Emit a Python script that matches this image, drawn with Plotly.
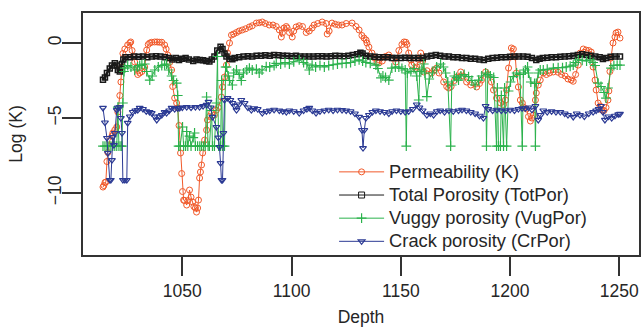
import plotly.graph_objects as go

# ---------------- data ----------------
k_depth = [1013.7, 1014.1, 1014.6, 1015.0, 1015.5, 1015.9, 1016.8, 1017.8, 1018.2, 1019.1, 1020.0, 1020.5,
           1021.4, 1021.9, 1022.3, 1022.8, 1023.7, 1025.0, 1026.0, 1026.4, 1027.0, 1027.5, 1028.2, 1029.0,
           1029.6, 1030.5, 1031.5, 1032.8, 1033.7, 1034.4, 1035.1, 1036.0, 1037.4, 1038.5, 1039.5, 1040.6,
           1041.9, 1042.6, 1043.3, 1044.2, 1045.1, 1045.6, 1046.5, 1047.4, 1047.9, 1048.5, 1049.2, 1049.7,
           1050.1, 1050.6, 1051.0, 1052.0, 1052.6, 1053.3, 1054.0, 1054.7, 1055.3, 1056.0, 1056.5, 1057.0,
           1057.4, 1057.9, 1058.3, 1058.8, 1059.3, 1060.2, 1061.1, 1061.5, 1062.4, 1063.4, 1064.7, 1065.6,
           1066.5, 1067.9, 1068.4, 1069.3, 1070.2, 1070.7, 1071.6, 1072.5, 1073.5, 1074.8, 1076.0, 1077.5,
           1079.0, 1080.7, 1082.0, 1083.9, 1085.2, 1086.6, 1088.0, 1089.8, 1091.5, 1093.0, 1094.4, 1095.3,
           1095.8, 1096.5, 1097.6, 1098.0, 1099.0, 1100.3, 1101.0, 1102.1, 1103.5, 1105.0, 1106.7, 1108.1,
           1109.4, 1110.3, 1112.0, 1114.0, 1115.8, 1116.3, 1117.2, 1118.5, 1120.0, 1121.5, 1123.1, 1125.0,
           1127.7, 1129.5, 1130.9, 1132.2, 1133.2, 1134.1, 1134.5, 1135.4, 1136.8, 1138.0, 1139.1, 1140.0,
           1141.5, 1143.0, 1144.5, 1146.0, 1147.7, 1149.1, 1150.5, 1151.5, 1152.3, 1152.8, 1153.6, 1154.6,
           1155.0, 1156.8, 1157.3, 1158.2, 1159.1, 1160.0, 1160.5, 1162.0, 1164.1, 1165.2, 1166.4, 1167.5,
           1169.6, 1171.0, 1171.9, 1173.0, 1174.5, 1175.5, 1177.4, 1178.5, 1180.1, 1182.0, 1184.7, 1186.0,
           1186.9, 1188.8, 1189.8, 1191.5, 1192.4, 1193.8, 1195.6, 1197.0, 1197.9, 1198.4, 1199.3, 1200.2,
           1200.6, 1201.5, 1202.4, 1202.9, 1203.8, 1204.7, 1205.6, 1206.1, 1207.5, 1208.4, 1209.3, 1210.0,
           1210.6, 1211.6, 1212.0, 1212.9, 1213.8, 1215.2, 1216.6, 1218.0, 1219.8, 1222.0, 1223.5, 1225.2,
           1226.5, 1228.0, 1228.9, 1230.0, 1231.2, 1232.1, 1233.5, 1234.8, 1236.0, 1237.1, 1238.0, 1238.9,
           1239.4, 1240.3, 1241.2, 1242.0, 1243.0, 1243.9, 1244.8, 1245.2, 1245.7, 1246.2, 1247.1, 1248.0,
           1248.5, 1249.4, 1250.3]
k_value = [-9.6, -9.5, -9.3, -9.27, -7.9, -7.3, -6.5, -6.2, -6.0, -5.8, -5.6, -4.6,
           -3.5, -2.6, -1.6, -0.7, -0.4, -0.13, 0.0, 0.07, -0.5, -0.9, -1.27, -1.7,
           -2.1, -2.0, -1.9, -1.6, -0.47, -0.1, 0.0, 0.05, 0.07, 0.07, 0.05, 0.05,
           -0.13, -0.4, -0.8, -1.3, -1.8, -2.9, -3.67, -4.0, -4.33, -5.5, -7.33, -8.7,
           -9.9, -10.47, -10.5, -10.8, -10.5, -9.8, -10.27, -10.6, -10.9, -11.0, -11.27, -11.0,
           -10.47, -9.0, -8.6, -8.13, -7.33, -6.47, -5.8, -5.13, -4.9, -4.67, -4.8, -4.47,
           -4.3, -3.6, -2.93, -2.27, -1.47, -0.67, 0.0, 0.53, 0.6, 0.7, 0.8, 0.87,
           0.95, 1.07, 1.15, 1.33, 1.35, 1.4, 1.3, 1.2, 1.2, 1.1, 0.87, 0.4,
           0.67, 1.0, 1.1, 1.0, 0.7, 0.4, 0.8, 1.07, 1.15, 1.1, 0.7, 0.8,
           1.0, 1.2, 1.3, 1.4, 1.3, 0.6, 0.8, 1.33, 1.25, 1.2, 1.2, 1.3,
           1.33, 1.1, 0.87, 0.5, 0.33, 0.2, 0.0, -0.27, -0.67, -1.0, -1.27, -1.33,
           -1.2, -0.9, -0.8, -1.0, -1.27, -0.5, -0.1, 0.07, 0.05, -0.1, -0.67, -1.13,
           -1.47, -1.7, -1.6, -1.1, -0.67, -1.2, -1.93, -1.85, -2.0, -1.8, -1.67, -2.0,
           -2.6, -2.9, -3.0, -2.9, -2.5, -2.27, -1.93, -2.2, -2.6, -2.8, -2.93, -2.7,
           -2.47, -1.93, -2.1, -2.6, -3.13, -3.67, -4.0, -4.1, -3.8, -3.13, -1.67, -0.93,
           -0.33, -0.4, -0.93, -2.0, -2.93, -3.8, -4.0, -4.27, -4.4, -4.9, -5.2, -5.0,
           -4.8, -3.8, -3.33, -2.8, -2.47, -2.0, -2.1, -2.0, -1.93, -1.95, -2.1, -2.2,
           -2.4, -2.47, -2.55, -2.1, -1.47, -0.67, -0.4, -0.47, -0.5, -0.6, -1.6, -2.47,
           -3.13, -4.0, -4.2, -4.47, -4.5, -4.3, -3.8, -3.2, -1.9, -1.0, 0.0, 0.4,
           0.67, 0.73, 0.33]

tp_depth = [1013.7, 1014.6, 1015.5, 1016.8, 1017.8, 1019.1, 1020.0, 1020.5, 1021.4, 1022.3, 1023.0, 1024.0,
            1026.0, 1028.0, 1030.0, 1032.0, 1034.0, 1036.0, 1038.0, 1040.0, 1042.0, 1044.0, 1045.5, 1047.0,
            1048.5, 1050.0, 1051.5, 1053.0, 1055.0, 1056.5, 1058.0, 1059.5, 1061.0, 1062.4, 1063.5, 1064.7,
            1066.0, 1067.5, 1068.4, 1069.3, 1070.2, 1071.6, 1072.9, 1074.0, 1076.0, 1078.0, 1080.0, 1082.0,
            1084.0, 1086.0, 1088.0, 1090.0, 1092.0, 1094.0, 1096.0, 1098.0, 1100.0, 1102.0, 1104.0, 1106.0,
            1108.0, 1110.0, 1112.0, 1114.0, 1116.0, 1118.0, 1120.0, 1122.0, 1124.0, 1126.0, 1128.0, 1130.0,
            1131.5, 1132.5, 1134.0, 1136.0, 1138.0, 1140.0, 1142.0, 1144.0, 1146.0, 1148.0, 1150.0, 1152.0,
            1154.0, 1156.0, 1158.0, 1160.0, 1162.0, 1164.0, 1166.0, 1168.0, 1170.0, 1172.0, 1174.0, 1176.0,
            1178.0, 1180.0, 1182.0, 1184.0, 1186.0, 1188.0, 1190.0, 1192.0, 1194.0, 1196.0, 1198.0, 1200.0,
            1202.0, 1204.0, 1206.0, 1208.0, 1210.0, 1212.0, 1213.5, 1215.0, 1217.0, 1219.0, 1221.0, 1223.0,
            1225.0, 1227.0, 1229.0, 1231.0, 1233.0, 1235.0, 1237.0, 1239.0, 1241.0, 1242.5, 1244.0, 1246.0,
            1248.0, 1250.3]
tp_value = [-2.45, -2.3, -2.0, -1.7, -1.5, -1.35, -1.5, -1.8, -1.9, -1.4, -1.1, -0.95,
            -0.95, -0.9, -0.92, -0.9, -0.95, -0.9, -0.88, -0.9, -0.95, -1.0, -1.1, -1.0,
            -1.13, -1.05, -1.0, -1.1, -1.2, -1.1, -1.13, -1.15, -1.2, -1.24, -1.1, -0.9,
            -0.5, -0.25, -0.4, -0.7, -0.9, -1.05, -1.09, -1.0, -0.95, -0.9, -0.88, -0.9,
            -0.85, -0.85, -0.82, -0.85, -0.8, -0.82, -0.85, -0.85, -0.88, -0.85, -0.9, -0.9,
            -0.9, -0.9, -0.88, -0.88, -0.9, -0.88, -0.85, -0.87, -0.88, -0.85, -0.8, -0.75,
            -0.65, -0.7, -0.85, -0.9, -0.92, -0.95, -0.95, -0.95, -1.0, -1.0, -1.0, -0.98,
            -1.0, -1.0, -1.0, -1.0, -0.9, -0.85, -0.8, -0.85, -0.9, -0.9, -0.95, -0.95,
            -1.0, -1.0, -1.05, -1.05, -1.1, -1.13, -1.05, -1.0, -0.98, -0.95, -0.95, -0.92,
            -0.9, -0.9, -0.9, -0.92, -1.0, -1.13, -1.05, -1.0, -0.98, -0.95, -0.95, -0.92,
            -0.9, -0.88, -0.85, -0.8, -0.75, -0.8, -0.85, -0.9, -0.95, -1.07, -1.0, -0.92,
            -0.9, -0.9]

vp_depth = [1013.7, 1014.6, 1015.5, 1016.4, 1017.3, 1018.2, 1019.1, 1020.0, 1020.5, 1021.0, 1021.9, 1022.3,
            1022.8, 1023.3, 1023.7, 1025.0, 1026.5, 1028.2, 1029.5, 1030.5, 1031.5, 1032.8, 1033.7, 1035.1,
            1036.2, 1037.4, 1039.0, 1040.6, 1041.9, 1042.8, 1043.8, 1045.1, 1046.0, 1047.4, 1047.9, 1048.3,
            1049.0, 1050.1, 1050.6, 1051.5, 1052.0, 1052.5, 1053.3, 1054.0, 1055.0, 1055.6, 1056.0, 1057.0,
            1058.0, 1058.8, 1059.7, 1060.5, 1061.1, 1061.8, 1062.4, 1063.4, 1063.8, 1064.7, 1065.6, 1066.1,
            1066.6, 1067.5, 1068.0, 1068.4, 1069.3, 1069.8, 1070.2, 1071.0, 1071.6, 1072.9, 1073.5, 1074.8,
            1076.0, 1077.0, 1078.0, 1079.5, 1080.7, 1082.0, 1083.9, 1085.2, 1086.5, 1088.4, 1090.0, 1092.0,
            1093.0, 1095.0, 1097.0, 1099.0, 1101.0, 1103.5, 1105.5, 1107.0, 1108.1, 1109.4, 1111.0, 1113.0,
            1115.0, 1117.0, 1119.0, 1121.0, 1123.1, 1125.0, 1127.0, 1129.0, 1130.9, 1132.5, 1134.0, 1136.0,
            1138.6, 1139.5, 1140.9, 1141.8, 1143.0, 1144.5, 1145.9, 1147.5, 1149.1, 1150.5, 1152.0, 1152.5,
            1153.0, 1154.6, 1156.0, 1157.3, 1158.2, 1158.7, 1159.6, 1160.5, 1161.0, 1161.9, 1163.0, 1164.5,
            1166.4, 1168.2, 1169.5, 1170.5, 1171.5, 1172.8, 1173.3, 1174.5, 1175.5, 1176.4, 1177.5, 1179.0,
            1181.0, 1182.5, 1184.0, 1185.6, 1187.0, 1188.8, 1189.2, 1189.8, 1191.0, 1192.5, 1193.8, 1194.2,
            1194.7, 1195.6, 1196.0, 1197.0, 1197.5, 1198.4, 1199.3, 1200.2, 1201.5, 1203.0, 1204.5, 1205.6,
            1206.1, 1207.0, 1208.0, 1208.4, 1209.5, 1211.2, 1211.6, 1212.0, 1212.9, 1213.8, 1215.2, 1217.0,
            1219.8, 1222.0, 1224.0, 1225.7, 1227.5, 1228.9, 1230.0, 1231.2, 1233.0, 1235.0, 1236.6, 1238.0,
            1238.9, 1240.3, 1241.6, 1243.0, 1243.9, 1244.8, 1246.2, 1247.5, 1249.0, 1250.3]
vp_value = [-6.87, -6.87, -6.87, -6.87, -6.87, -6.87, -6.87, -6.87, -4.27, -6.87, -6.87, -6.87,
            -4.0, -1.9, -1.67, -1.5, -1.6, -1.8, -1.6, -1.5, -1.45, -1.4, -1.9, -2.47,
            -2.2, -1.8, -1.6, -1.5, -1.45, -1.4, -1.8, -2.2, -2.5, -2.67, -3.5, -6.87,
            -6.87, -5.6, -6.87, -6.87, -5.9, -6.87, -6.2, -6.87, -6.3, -6.0, -6.87, -6.87,
            -6.87, -6.87, -6.87, -6.87, -3.6, -6.87, -6.87, -4.5, -6.87, -6.87, -4.0, -0.9,
            -6.87, -6.87, -2.5, -6.87, -6.87, -1.6, -1.6, -2.2, -2.5, -2.8, -2.0, -1.8,
            -2.1, -2.5, -2.0, -1.8, -1.67, -1.8, -1.75, -2.0, -1.8, -1.58, -1.6, -1.5,
            -1.36, -1.4, -1.3, -1.4, -1.25, -1.13, -1.3, -1.4, -1.8, -1.47, -1.6, -1.5,
            -1.6, -1.5, -1.45, -1.4, -1.36, -1.35, -1.3, -1.2, -1.13, -1.2, -1.3, -1.35,
            -1.47, -1.7, -2.33, -2.2, -2.3, -2.47, -1.67, -1.6, -1.6, -1.7, -1.8, -6.87,
            -2.0, -1.9, -1.7, -2.2, -3.8, -1.9, -1.8, -1.4, -2.0, -3.58, -2.4, -2.0,
            -1.6, -1.4, -1.6, -2.0, -2.6, -6.87, -2.8, -2.2, -2.3, -2.47, -2.2, -2.1,
            -2.24, -2.5, -2.8, -2.47, -2.2, -2.0, -6.87, -2.1, -2.2, -2.3, -6.87, -3.0,
            -6.87, -6.87, -3.5, -6.87, -3.0, -6.87, -3.2, -2.6, -2.24, -2.0, -2.1, -6.87,
            -2.0, -1.8, -1.6, -2.0, -2.6, -2.7, -6.87, -2.7, -2.0, -1.8, -1.8, -1.75,
            -1.67, -1.65, -1.65, -1.6, -1.55, -1.47, -1.3, -1.13, -1.15, -1.2, -1.13, -1.3,
            -1.5, -2.67, -2.9, -3.3, -3.67, -3.0, -1.67, -1.5, -1.47, -1.47]

cp_depth = [1013.7, 1014.6, 1015.5, 1015.9, 1016.8, 1017.3, 1017.8, 1018.2, 1018.7, 1019.1, 1020.0, 1020.5,
            1021.4, 1021.9, 1022.4, 1022.8, 1023.7, 1024.6, 1025.0, 1026.0, 1027.3, 1028.5, 1029.6, 1030.5,
            1032.0, 1033.5, 1035.0, 1036.0, 1037.4, 1038.3, 1039.5, 1040.6, 1041.9, 1042.8, 1044.0, 1045.1,
            1046.5, 1047.9, 1048.8, 1050.0, 1052.0, 1054.0, 1056.0, 1057.9, 1059.5, 1061.1, 1062.0, 1063.0,
            1063.8, 1065.6, 1066.5, 1067.0, 1067.5, 1067.9, 1068.4, 1068.8, 1069.3, 1070.7, 1072.0, 1072.9,
            1074.0, 1074.8, 1076.0, 1077.0, 1078.5, 1080.0, 1081.6, 1083.0, 1084.5, 1086.6, 1088.5, 1090.0,
            1092.0, 1094.4, 1096.0, 1097.6, 1099.0, 1101.0, 1103.5, 1105.5, 1107.0, 1108.1, 1109.5, 1111.2,
            1113.0, 1115.0, 1117.0, 1119.0, 1121.0, 1123.1, 1125.0, 1127.0, 1129.0, 1130.9, 1132.2, 1132.7,
            1133.3, 1134.0, 1135.4, 1137.0, 1138.6, 1140.5, 1142.5, 1144.5, 1146.0, 1148.0, 1150.0, 1152.0,
            1153.6, 1155.5, 1157.3, 1158.5, 1160.0, 1161.9, 1163.5, 1165.0, 1166.5, 1168.0, 1170.0, 1172.0,
            1174.0, 1176.4, 1178.0, 1180.0, 1182.0, 1184.0, 1186.0, 1187.8, 1188.8, 1190.0, 1192.0, 1194.0,
            1196.0, 1198.0, 1200.0, 1202.0, 1203.8, 1205.5, 1207.0, 1208.4, 1210.0, 1211.6, 1212.9, 1214.0,
            1215.2, 1217.0, 1219.0, 1221.0, 1223.0, 1225.0, 1226.5, 1228.9, 1230.5, 1232.0, 1234.0, 1236.0,
            1238.0, 1239.4, 1240.5, 1241.6, 1242.5, 1243.4, 1245.0, 1246.5, 1248.0, 1249.5, 1250.3]
cp_value = [-4.33, -5.3, -6.33, -7.33, -9.13, -9.13, -7.8, -6.27, -6.8, -6.0, -4.47, -4.3,
            -4.27, -5.0, -6.0, -9.13, -9.13, -9.13, -5.33, -4.9, -4.6, -4.5, -4.47, -4.33,
            -4.4, -4.55, -4.6, -4.67, -4.9, -5.13, -4.9, -4.8, -4.6, -4.67, -4.5, -4.33,
            -4.4, -4.35, -4.33, -4.3, -4.27, -4.3, -4.27, -4.27, -4.2, -4.13, -3.93, -4.3,
            -4.93, -5.6, -6.3, -6.93, -8.0, -9.13, -9.13, -6.0, -3.8, -3.67, -3.8, -4.0,
            -4.2, -4.47, -4.1, -3.8, -4.0, -4.3, -4.47, -4.35, -4.4, -4.67, -4.55, -4.5,
            -4.45, -4.5, -4.55, -4.6, -4.5, -4.55, -4.67, -4.5, -4.4, -4.33, -4.5, -4.67,
            -4.55, -4.5, -4.45, -4.5, -4.45, -4.47, -4.5, -4.55, -4.7, -4.93, -5.8, -7.0,
            -5.8, -5.0, -4.8, -4.6, -4.5, -4.55, -4.6, -4.7, -4.55, -4.5, -4.55, -4.6,
            -4.55, -4.4, -4.1, -4.3, -4.5, -4.8, -4.7, -4.8, -4.55, -4.5, -4.6, -4.5,
            -4.55, -4.5, -4.45, -4.5, -4.6, -4.7, -4.85, -5.0, -4.2, -4.4, -4.5, -4.45,
            -4.5, -4.5, -4.45, -4.5, -4.4, -4.35, -4.35, -4.3, -4.45, -4.2, -5.13, -4.8,
            -4.5, -4.6, -4.55, -4.6, -4.6, -4.7, -4.8, -4.93, -4.7, -4.8, -4.9, -4.7,
            -4.6, -4.5, -4.4, -4.2, -4.6, -5.13, -4.9, -5.0, -4.85, -4.75, -4.73]

series_names = ["Permeability (K)", "Total Porosity (TotPor)", "Vuggy porosity (VugPor)", "Crack porosity (CrPor)"]
x_ticks = [1050, 1100, 1150, 1200, 1250]
y_ticks = [0, -5, -10]

# ---------------- figure ----------------
FONT = "Liberation Sans, Arial, sans-serif"
INK = "#262626"
RED, BLACK, GREEN, BLUE = "#F15A2B", "#1A1A1A", "#2BB24C", "#2B3A94"


def legend_label(s):
    return '<span style="font-size:18.3px">' + s + '</span>'


fig = go.Figure()
fig.add_trace(go.Scatter(x=k_depth, y=k_value, name=legend_label(series_names[0]), mode="lines+markers",
                         line=dict(color=RED, width=1),
                         marker=dict(symbol="circle-open", size=6, color=RED, line=dict(width=1))))
# Total porosity: dense band in the plot; a thin-line legend entry (no data) as in the reference
fig.add_trace(go.Scatter(x=tp_depth, y=tp_value, name=legend_label(series_names[1]), mode="lines+markers",
                         showlegend=False,
                         line=dict(color=BLACK, width=2.6),
                         marker=dict(symbol="square-open", size=5, color=BLACK, line=dict(width=1.5))))
fig.add_trace(go.Scatter(x=[None], y=[None], name=legend_label(series_names[1]), mode="lines+markers",
                         line=dict(color=BLACK, width=1),
                         marker=dict(symbol="square-open", size=6, color=BLACK, line=dict(width=1))))
fig.add_trace(go.Scatter(x=vp_depth, y=vp_value, name=legend_label(series_names[2]), mode="lines+markers",
                         line=dict(color=GREEN, width=1),
                         marker=dict(symbol="cross-thin-open", size=7, color=GREEN, line=dict(width=1.2))))
fig.add_trace(go.Scatter(x=cp_depth, y=cp_value, name=legend_label(series_names[3]), mode="lines+markers",
                         line=dict(color=BLUE, width=1),
                         marker=dict(symbol="triangle-down-open", size=6, color=BLUE, line=dict(width=1.2))))

axis_common = dict(showgrid=False, zeroline=False, showline=True, mirror=True,
                   linecolor="#333333", linewidth=1.6, ticks="outside", ticklen=19,
                   tickwidth=1.6, tickcolor="#333333",
                   tickfont=dict(family=FONT, size=17.5, color=INK))

fig.update_layout(
    width=643, height=328,
    margin=dict(l=83, r=2, t=13, b=73),
    paper_bgcolor="white", plot_bgcolor="white",
    showlegend=True,
    legend=dict(x=0.4516, y=0.412, xanchor="left", yanchor="top",
                bgcolor="rgba(0,0,0,0)", borderwidth=0, itemwidth=45,
                font=dict(family=FONT, size=15.5, color=INK),
                tracegroupgap=0),
    xaxis=dict(range=[1004.55, 1259.0], tickvals=x_ticks,
               title=dict(text="Depth", font=dict(family=FONT, size=17.5, color=INK), standoff=11),
               **axis_common),
    yaxis=dict(range=[-14.13, 2.0], tickvals=y_ticks, tickangle=-90, ticklabelstandoff=-6,
               title=dict(text="Log (K)", font=dict(family=FONT, size=17.5, color=INK), standoff=18),
               **axis_common),
)

fig.write_html("out.html")
